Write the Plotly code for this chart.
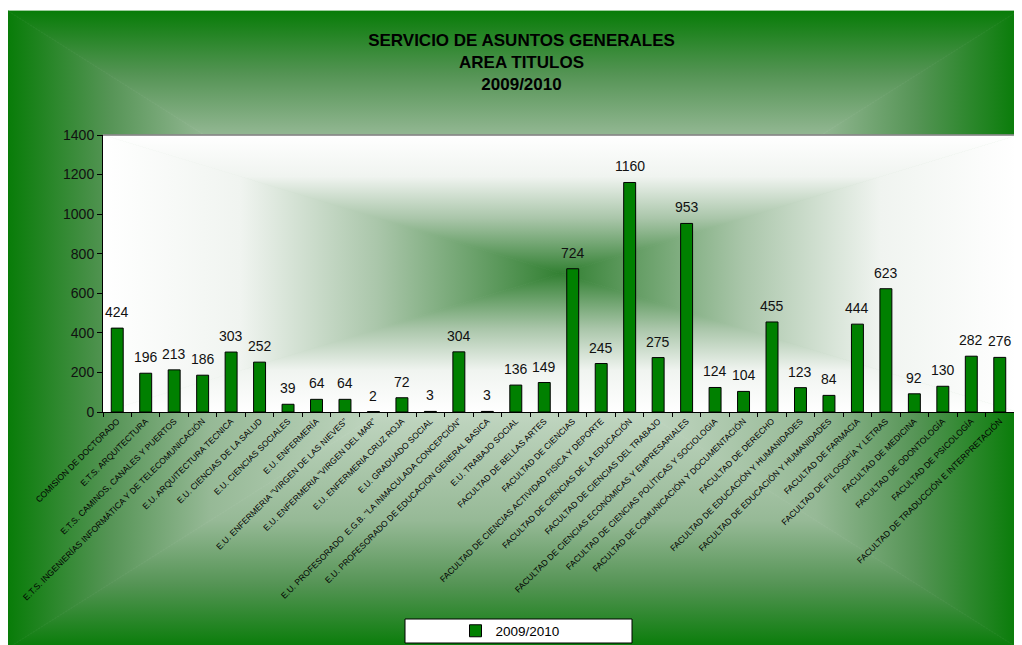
import base64
import plotly.graph_objects as go

# ---------------- data ----------------
categories = [
    "COMISION DE DOCTORADO",
    "E.T.S. ARQUITECTURA",
    "E.T.S. CAMINOS, CANALES Y PUERTOS",
    "E.T.S. INGENIERÍAS INFORMÁTICA Y DE TELECOMUNICACIÓN",
    "E.U. ARQUITECTURA TECNICA",
    "E.U. CIENCIAS DE LA SALUD",
    "E.U. CIENCIAS SOCIALES",
    "E.U. ENFERMERÍA",
    "E.U. ENFERMERIA \"VIRGEN DE LAS NIEVES\"",
    "E.U. ENFERMERIA \"VIRGEN DEL MAR\"",
    "E.U. ENFERMERIA CRUZ ROJA",
    "E.U. GRADUADO SOCIAL",
    "E.U. PROFESORADO  E.G.B. \"LA INMACULADA CONCEPCIÓN\"",
    "E.U. PROFESORADO DE EDUCACION GENERAL BASICA",
    "E.U. TRABAJO SOCIAL",
    "FACULTAD DE BELLAS ARTES",
    "FACULTAD DE CIENCIAS",
    "FACULTAD DE CIENCIAS ACTIVIDAD FISICA Y DEPORTE",
    "FACULTAD DE CIENCIAS DE LA EDUCACIÓN",
    "FACULTAD DE CIENCIAS DEL TRABAJO",
    "FACULTAD DE CIENCIAS ECONÓMICAS Y EMPRESARIALES",
    "FACULTAD DE CIENCIAS POLÍTICAS Y SOCIOLOGIA",
    "FACULTAD DE COMUNICACIÓN Y DOCUMENTACIÓN",
    "FACULTAD DE DERECHO",
    "FACULTAD DE EDUCACIÓN Y HUMANIDADES",
    "FACULTAD DE EDUCACIÓN Y HUMANIDADES",
    "FACULTAD DE FARMACIA",
    "FACULTAD DE FILOSOFÍA Y LETRAS",
    "FACULTAD DE MEDICINA",
    "FACULTAD DE ODONTOLOGÍA",
    "FACULTAD DE PSICOLOGÍA",
    "FACULTAD DE TRADUCCIÓN E INTERPRETACIÓN",
]
values = [424, 196, 213, 186, 303, 252, 39, 64, 64, 2, 72, 3, 304, 3, 136, 149,
          724, 245, 1160, 275, 953, 124, 104, 455, 123, 84, 444, 623, 92, 130, 282, 276]
series_name = "2009/2010"
title_lines = ["SERVICIO DE ASUNTOS GENERALES", "AREA TITULOS", "2009/2010"]
y_ticks = [0, 200, 400, 600, 800, 1000, 1200, 1400]

# ---------------- layout geometry (figure pixels; page adds an 8px body margin) ----------------
W, H = 1006, 637
L, R, T, B = 95, 0, 127, 233
PW = W - L - R
PH = H - T - B
FONT = "Liberation Sans, Arial, sans-serif"


def px_x(X):
    return (X - L) / PW


def px_y(Y):
    return (H - B - Y) / PH


def rect_gradient(idp, x0, y0, x1, y1, stops):
    """Rectangular 'from centre' gradient made of four triangles."""
    cx, cy = (x0 + x1) / 2, (y0 + y1) / 2
    stop_xml = "".join(f'<stop offset="{o}" stop-color="{c}"/>' for o, c in stops)
    sides = [
        ("t", (x0, y0), (x1, y0), (0, y0, 0, cy)),
        ("b", (x1, y1), (x0, y1), (0, y1, 0, cy)),
        ("l", (x0, y1), (x0, y0), (x0, 0, cx, 0)),
        ("r", (x1, y0), (x1, y1), (x1, 0, cx, 0)),
    ]
    defs, polys = [], []
    for name, p, q, (gx1, gy1, gx2, gy2) in sides:
        gid = f"{idp}{name}"
        defs.append(
            f'<linearGradient id="{gid}" gradientUnits="userSpaceOnUse" '
            f'x1="{gx1}" y1="{gy1}" x2="{gx2}" y2="{gy2}">{stop_xml}</linearGradient>'
        )
        polys.append(
            f'<polygon points="{p[0]},{p[1]} {q[0]},{q[1]} {cx},{cy}" '
            f'fill="url(#{gid})" stroke="url(#{gid})" stroke-width="0.8"/>'
        )
    return "".join(defs), "".join(polys)


outer_stops = [(0, "rgb(8,124,8)"), (0.2, "rgb(85,148,85)"),
               (0.4, "rgb(150,185,150)"), (1, "rgb(225,235,225)")]
inner_stops = [(0, "rgb(255,255,255)"), (0.3, "rgb(240,244,240)"),
               (0.6, "rgb(170,198,170)"), (1, "rgb(50,128,50)")]
d1, p1 = rect_gradient("o", 0, 3, 1010, 640, outer_stops)
d2, p2 = rect_gradient("i", L, T, 1010, H - B, inner_stops)
svg = (
    f'<svg xmlns="http://www.w3.org/2000/svg" width="{W}" height="{H}" '
    f'viewBox="0 0 {W} {H}" preserveAspectRatio="none">'
    f'<defs>{d1}{d2}</defs>'
    f'<rect x="0" y="0" width="{W}" height="{H}" fill="white"/>'
    f'{p1}{p2}</svg>'
)
bg_uri = "data:image/svg+xml;base64," + base64.b64encode(svg.encode("utf-8")).decode()

# ---------------- figure ----------------
n = len(categories)
xs = list(range(n))

fig = go.Figure()
fig.add_trace(go.Bar(
    x=xs, y=values, name=series_name, width=0.42,
    marker=dict(color="#008000", line=dict(color="black", width=1)),
    showlegend=True,
))

annotations = [
    dict(x=x, y=v, text=str(v), xref="x", yref="y", showarrow=False,
         yanchor="bottom", yshift=6, font=dict(family=FONT, size=14, color="#111"))
    for x, v in zip(xs, values)
]

shapes = [
    # grey top border of the plot area
    dict(type="line", xref="paper", yref="paper", x0=0, x1=1, y0=1, y1=1,
         line=dict(color="rgb(120,120,120)", width=1.5)),
    # legend box
    dict(type="rect", xref="paper", yref="paper",
         x0=px_x(397), x1=px_x(624), y0=px_y(635), y1=px_y(611),
         fillcolor="white", line=dict(color="black", width=1), layer="above"),
]

fig.update_layout(
    width=W, height=H,
    margin=dict(l=L, r=R, t=T, b=B, autoexpand=False),
    paper_bgcolor="white",
    plot_bgcolor="rgba(0,0,0,0)",
    font=dict(family=FONT, color="black"),
    title=dict(
        text="<br>".join(f"<b>{t}</b>" for t in title_lines),
        x=513.5 / W, xref="container", xanchor="center",
        y=1 - 38 / H, yref="container", yanchor="top",
        font=dict(family=FONT, size=17, color="black"),
    ),
    xaxis=dict(
        range=[-0.5, n - 0.5], tickmode="array", tickvals=xs, ticktext=categories,
        tickangle=-45, tickfont=dict(family=FONT, size=8.5, color="#000"),
        ticks="", showgrid=False, zeroline=False, automargin=False,
        showline=True, linecolor="black", linewidth=1,
        minor=dict(tickmode="array", tickvals=[i - 0.5 for i in range(n + 1)],
                   ticks="outside", ticklen=4, tickcolor="black", tickwidth=1,
                   showgrid=False),
    ),
    yaxis=dict(
        range=[0, 1400], tickmode="array", tickvals=y_ticks,
        ticks="outside", ticklen=5, tickcolor="black",
        tickfont=dict(family=FONT, size=14, color="#111"),
        showgrid=False, zeroline=False, automargin=False,
        showline=True, linecolor="black", linewidth=1,
    ),
    showlegend=True,
    legend=dict(
        orientation="h", x=px_x(502), xanchor="center", y=px_y(623), yanchor="middle",
        bgcolor="rgba(0,0,0,0)", borderwidth=0, itemwidth=30,
        font=dict(family=FONT, size=13.5, color="black"),
    ),
    annotations=annotations,
    shapes=shapes,
    images=[dict(source=bg_uri, xref="paper", yref="paper",
                 x=px_x(0), y=px_y(0), sizex=W / PW, sizey=H / PH,
                 xanchor="left", yanchor="top", sizing="stretch", layer="below")],
)

fig.write_html("out.html")
